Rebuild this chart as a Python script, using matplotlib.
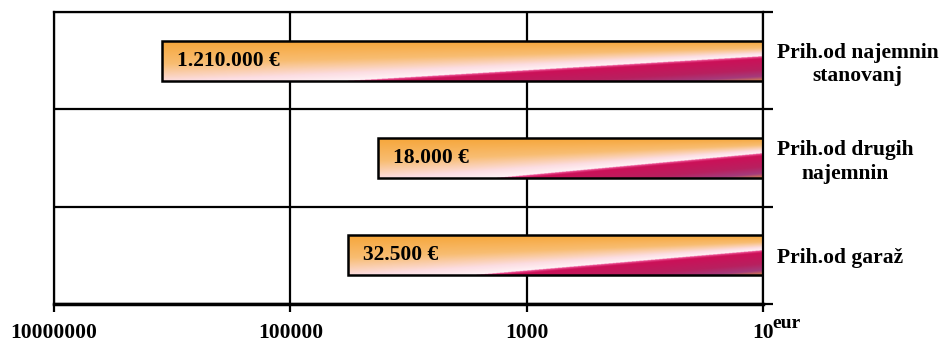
import numpy as np
import matplotlib.pyplot as plt
from matplotlib.colors import LinearSegmentedColormap
from matplotlib.ticker import NullLocator

# podatki
kategorije = ['Prih.od garaž', 'Prih.od drugih\nnajemnin', 'Prih.od najemnin\nstanovanj']
zneski = [32500, 18000, 1210000]
oznake = ['32.500 €', '18.000 €', '1.210.000 €']
x_ticki = [10000000, 100000, 1000, 10]

plt.rcParams['font.family'] = ['Liberation Serif', 'DejaVu Serif']
plt.rcParams['font.weight'] = 'bold'
plt.rcParams['font.size'] = 15.5

zgoraj = LinearSegmentedColormap.from_list('zgoraj', [(0, '#f6a63a'), (0.45, '#f8bd72'),
                                                      (0.8, '#fcdde2'), (1, '#fff3f7')])
spodaj = LinearSegmentedColormap.from_list('spodaj', [(0, '#f05a9c'), (0.1, '#cc1058'),
                                                      (0.55, '#b8205f'), (0.82, '#a43c7c'),
                                                      (1, '#d8824c')])


def gradient(nx=500, ny=120, u0=0.31, v1=0.38):
    u = np.linspace(0, 1, nx)[None, :]
    v = np.linspace(0, 1, ny)[:, None]
    vl = 1 - (u - u0) / (1 - u0) * (1 - v1)
    nad = v < vl
    t = np.clip(v / vl, 0, 1)
    s = np.clip((v - vl) / (1 - v1), 0, 1)
    return np.where(nad[..., None], zgoraj(t), spodaj(s))


fig = plt.figure(figsize=(9.44, 3.47), dpi=100)
ax = fig.add_axes([54 / 944, 1 - 304 / 347, (763 - 54) / 944, (304 - 12) / 347])
ax.set_xscale('log')
ax.set_xlim(1e7, 10)
ax.set_ylim(-0.5, 2.5)

y = np.arange(len(zneski))
bars = ax.barh(y, [z - 10 for z in zneski], left=10, height=0.41,
               facecolor='none', edgecolor='black', linewidth=1.8, zorder=3)

# gradient v vsakem stolpcu
for b in bars:
    (x0, y0), (x1, y1) = ax.transAxes.inverted().transform(
        ax.transData.transform([(b.get_x(), b.get_y()),
                                (b.get_x() + b.get_width(), b.get_y() + b.get_height())]))
    lo, hi = sorted([x0, x1])
    im = ax.imshow(gradient(), extent=(lo, hi, y0, y1), transform=ax.transAxes,
                   aspect='auto', origin='upper', zorder=2, interpolation='bilinear')
    im.set_clip_path(b)

for yi, z, o in zip(y, zneski, oznake):
    ax.annotate(o, xy=(z, yi), xytext=(15, 0), textcoords='offset pixels',
                ha='left', va='center', zorder=4)

ax.set_xticks(x_ticki)
ax.set_xticklabels([str(x) for x in x_ticki])
ax.xaxis.set_minor_locator(NullLocator())
ax.xaxis.grid(True, color='black', linewidth=1.6)
ax.tick_params(axis='x', direction='out', length=6, width=1.6, pad=8)

ax.set_yticks(y)
ax.set_yticklabels(kategorije)
ax.set_yticks([-0.5, 0.5, 1.5, 2.5], minor=True)
ax.yaxis.grid(True, which='minor', color='black', linewidth=1.6)
ax.yaxis.tick_right()
ax.tick_params(axis='y', which='major', length=0, pad=10)
ax.tick_params(axis='y', which='minor', direction='out', length=7, width=1.6)
for lab in ax.get_yticklabels():
    lab.set_multialignment('center')
ax.set_axisbelow(True)

for s in ax.spines.values():
    s.set_linewidth(1.6)
ax.spines['bottom'].set_linewidth(2.5)

fig.text(772 / 944, 1 - 328 / 347, 'eur', ha='left', va='baseline', fontsize=14)

fig.savefig('out.png', dpi=100)
